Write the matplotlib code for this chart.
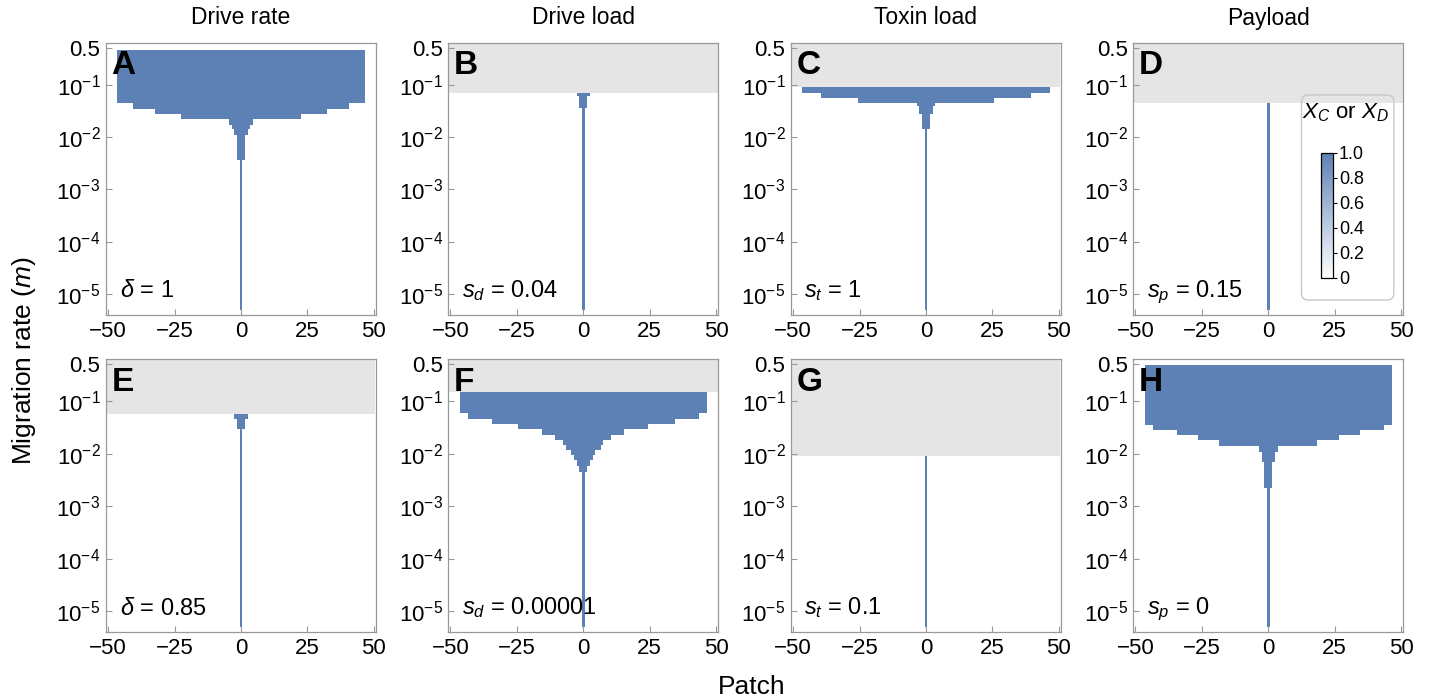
import numpy as np
import matplotlib
matplotlib.use('Agg')
import matplotlib.pyplot as plt
from matplotlib.colors import LinearSegmentedColormap, Normalize
from matplotlib.cm import ScalarMappable
from matplotlib.patches import FancyBboxPatch
from matplotlib.ticker import NullLocator

plt.rcParams['font.family'] = ['Liberation Sans', 'DejaVu Sans']
plt.rcParams['mathtext.fontset'] = 'custom'
plt.rcParams['mathtext.rm'] = 'Liberation Sans'
plt.rcParams['mathtext.it'] = 'Liberation Sans:italic'
plt.rcParams['mathtext.bf'] = 'Liberation Sans:bold'

# ---- data: patches, and for each panel the migration-rate edges of each
# ---- step plus the half-width (in patches) of the drive region in that step
PATCH = np.arange(-50, 51)
GRAY_TOP = 0.6

A_m = [5e-6, 3.6e-3, 1.1e-2, 1.4e-2, 1.72e-2, 2.23e-2, 2.78e-2, 3.47e-2, 4.54e-2, 0.46]
A_k = [0, 1, 2, 3, 4, 22, 32, 40, 46]
A_gray = None

B_m = [5e-6, 3.6e-2, 6.1e-2, 7.0e-2]
B_k = [0, 1, 2]
B_gray = 7.0e-2

C_m = [5e-6, 1.41e-2, 2.8e-2, 3.87e-2, 4.48e-2, 5.65e-2, 7.0e-2, 8.8e-2]
C_k = [0, 1, 2, 3, 25, 39, 46]
C_gray = 8.8e-2

D_m = [5e-6, 4.54e-2]
D_k = [0]
D_gray = 4.54e-2

E_m = [5e-6, 2.88e-2, 4.6e-2, 5.65e-2]
E_k = [0, 1, 2]
E_gray = 5.65e-2

F_m = [5e-6, 4.4e-3, 5.9e-3, 7.7e-3, 9.6e-3, 1.19e-2, 1.49e-2, 1.85e-2,
       2.24e-2, 2.88e-2, 3.58e-2, 4.6e-2, 5.8e-2, 0.149]
F_k = [0, 1, 2, 3, 4, 6, 7, 10, 15, 24, 34, 43, 46]
F_gray = 0.149

G_m = [5e-6, 9.2e-3]
G_k = [0]
G_gray = 9.2e-3

H_m = [5e-6, 2.2e-3, 6.9e-3, 1.07e-2, 1.38e-2, 1.8e-2, 2.24e-2, 2.8e-2, 3.48e-2, 0.48]
H_k = [0, 1, 2, 3, 18, 26, 34, 43, 46]
H_gray = None

LETTERS = ['A', 'B', 'C', 'D', 'E', 'F', 'G', 'H']
TITLES = ['Drive rate', 'Drive load', 'Toxin load', 'Payload']
NOTES = [r'$\delta$ = 1', r'$s_d$ = 0.04', r'$s_t$ = 1', r'$s_p$ = 0.15',
         r'$\delta$ = 0.85', r'$s_d$ = 0.00001', r'$s_t$ = 0.1', r'$s_p$ = 0']

YTICKS = [1e-5, 1e-4, 1e-3, 1e-2, 1e-1, 0.5]
YTICKLABELS = [r'$10^{-5}$', r'$10^{-4}$', r'$10^{-3}$', r'$10^{-2}$', r'$10^{-1}$', '0.5']
XTICKS = [-50, -25, 0, 25, 50]
CB_TICKS = [0, 0.2, 0.4, 0.6, 0.8, 1.0]
CB_LABELS = ['0', '0.2', '0.4', '0.6', '0.8', '1.0']

BLUE = '#5E81B5'
GRAY = '#E5E5E5'
CMAP = LinearSegmentedColormap.from_list('wb', ['#FFFFFF', BLUE])

PANELS = [(A_m, A_k, A_gray), (B_m, B_k, B_gray), (C_m, C_k, C_gray), (D_m, D_k, D_gray),
          (E_m, E_k, E_gray), (F_m, F_k, F_gray), (G_m, G_k, G_gray), (H_m, H_k, H_gray)]


def draw_panel(ax, m_edges, half, gray_lo):
    x_edges = np.append(PATCH - 0.5, PATCH[-1] + 0.5)
    z = np.array([[1.0 if abs(p) <= k else np.nan for p in PATCH] for k in half])
    if gray_lo is not None:
        ax.fill_between([x_edges[0], x_edges[-1]], gray_lo, GRAY_TOP, color=GRAY, lw=0)
    ax.pcolormesh(x_edges, m_edges, np.ma.masked_invalid(z), cmap=CMAP,
                  vmin=0, vmax=1, shading='flat', antialiased=True)


fig = plt.figure(figsize=(14.32, 7), dpi=100)
lefts = [106, 448.3, 791, 1133.3]
w = 270 / 1432
rows = [(315, 272.3), (632.3, 273.3)]   # bottom px, height px

axes = []
for r, (bot, hgt) in enumerate(rows):
    for c in range(4):
        ax = fig.add_axes([lefts[c] / 1432, 1 - bot / 700, w, hgt / 700])
        axes.append(ax)

for i, ax in enumerate(axes):
    m_edges, half, gray_lo = PANELS[i]
    draw_panel(ax, m_edges, half, gray_lo)
    ax.set_yscale('log')
    ax.set_ylim(4e-6, 0.63)
    ax.set_xlim(-50.8, 50.8)
    ax.set_yticks(YTICKS)
    ax.set_yticklabels(YTICKLABELS)
    ax.yaxis.set_minor_locator(NullLocator())
    ax.set_xticks(XTICKS)
    ax.set_xticklabels(['\u221250', '\u221225', '0', '25', '50'])
    ax.tick_params(direction='in', length=4, width=0.8, color='#999999',
                   labelsize=16, pad=4)
    for s in ax.spines.values():
        s.set_color('#999999')
        s.set_linewidth(0.9)
    ax.text(0.02, 0.915, LETTERS[i], transform=ax.transAxes, fontsize=24,
            fontweight='bold', ha='left', va='center')
    ax.text(0.05, 0.065, NOTES[i], transform=ax.transAxes, fontsize=17,
            ha='left', va='baseline')

for c in range(4):
    fig.text((lefts[c] + 135) / 1432, 1 - 18 / 700, TITLES[c], ha='center',
             va='center', fontsize=16.5)

fig.text(24 / 1432, 0.485, r'Migration rate ($m$)', rotation=90, ha='center',
         va='center', fontsize=19)
fig.text(752 / 1432, 1 - 687 / 700, 'Patch', ha='center', va='center', fontsize=19)

# colour legend inside panel D
axd = axes[3]
box = FancyBboxPatch((0.623, 0.055), 0.342, 0.753,
                     boxstyle='round,pad=0,rounding_size=0.025',
                     transform=axd.transAxes, fc='none', ec='#C8C8C8', lw=1)
axd.add_patch(box)
axd.text(0.787, 0.742, r'$X_C$ or $X_D$', transform=axd.transAxes,
         ha='center', va='center', fontsize=16)
cax = axd.inset_axes([0.694, 0.136, 0.047, 0.459])
cb = fig.colorbar(ScalarMappable(Normalize(0, 1), CMAP), cax=cax, ticks=CB_TICKS)
cb.ax.set_yticklabels(CB_LABELS)
cb.ax.tick_params(labelsize=13, length=3, width=0.8, pad=1)
cb.outline.set_linewidth(0.9)

fig.savefig('out.png', dpi=100)
